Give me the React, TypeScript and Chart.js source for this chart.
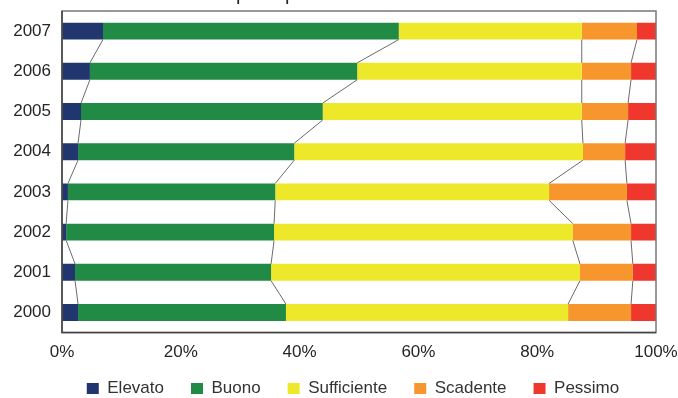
import React, { useEffect, useRef } from 'react';
import { Chart, registerables } from 'chart.js';

Chart.register(...registerables);

const years = ['2007', '2006', '2005', '2004', '2003', '2002', '2001', '2000'];
const elevato = [6.9, 4.7, 3.2, 2.7, 1.0, 0.7, 2.2, 2.7];
const buono = [49.8, 45.0, 40.7, 36.4, 34.9, 35.0, 33.0, 35.0];
const sufficiente = [30.8, 37.8, 43.6, 48.6, 46.1, 50.3, 52.0, 47.5];
const scadente = [9.3, 8.3, 7.8, 7.1, 13.1, 9.8, 8.9, 10.6];
const pessimo = [3.2, 4.2, 4.7, 5.2, 4.9, 4.2, 3.9, 4.2];
const seriesNames = ['Elevato', 'Buono', 'Sufficiente', 'Scadente', 'Pessimo'];
const seriesColors = ['#21366F', '#218A44', '#EDE92A', '#F7962D', '#EF372E'];
const xTicks = [0, 20, 40, 60, 80, 100];
const titleText = 'per il periodo 2000 - 2007';

const FONT = "'Liberation Sans', Arial, sans-serif";

const seriesLines = {
  id: 'seriesLines',
  afterDatasetsDraw(chart: any) {
    const ctx = chart.ctx;
    const n = chart.data.datasets.length;
    ctx.save();
    ctx.strokeStyle = '#6b6b6b';
    ctx.lineWidth = 1;
    for (let d = 0; d < n - 1; d++) {
      const meta = chart.getDatasetMeta(d);
      for (let i = 0; i < meta.data.length - 1; i++) {
        const a: any = meta.data[i];
        const b: any = meta.data[i + 1];
        ctx.beginPath();
        ctx.moveTo(a.x, a.y + a.height / 2);
        ctx.lineTo(b.x, b.y - b.height / 2);
        ctx.stroke();
      }
    }
    ctx.restore();
  },
};

const frame = {
  id: 'frame',
  afterDatasetsDraw(chart: any) {
    const { left, right, top, bottom } = chart.chartArea;
    const ctx = chart.ctx;
    ctx.save();
    ctx.strokeStyle = '#777';
    ctx.lineWidth = 1.5;
    ctx.strokeRect(left, top, right - left, bottom - top);
    ctx.strokeStyle = '#444';
    ctx.beginPath();
    ctx.moveTo(left, top);
    ctx.lineTo(left, bottom);
    ctx.lineTo(right, bottom);
    ctx.stroke();
    ctx.restore();
  },
};

const shiftBoxes = {
  id: 'shiftBoxes',
  afterLayout(chart: any) {
    if (chart.legend) {
      chart.legend.left += 25;
      chart.legend.right += 25;
      chart.legend.top -= 20;
      chart.legend.bottom -= 20;
    }
    if (chart.titleBlock) {
      chart.titleBlock.left += 22;
      chart.titleBlock.right += 22;
    }
  },
};

export default function App() {
  const ref = useRef<HTMLCanvasElement | null>(null);

  useEffect(() => {
    if (!ref.current) return;
    const values = [elevato, buono, sufficiente, scadente, pessimo];
    const chart = new Chart(ref.current, {
      type: 'bar',
      data: {
        labels: years,
        datasets: seriesNames.map((name, i) => ({
          label: name,
          data: values[i],
          backgroundColor: seriesColors[i],
          borderWidth: 0,
          barPercentage: 0.42,
          categoryPercentage: 1,
        })),
      },
      options: {
        indexAxis: 'y',
        responsive: false,
        animation: false,
        layout: { padding: { left: 0, right: 22, top: 0, bottom: 0 } },
        scales: {
          x: {
            stacked: true,
            min: 0,
            max: 100,
            afterBuildTicks: (s: any) => {
              s.ticks = xTicks.map((v) => ({ value: v }));
            },
            afterFit: (s: any) => {
              s.paddingLeft = 0;
              s.paddingRight = 0;
            },
            ticks: {
              callback: (v: any) => v + '%',
              padding: 10,
              color: '#262626',
              font: { family: FONT, size: 17 },
              maxRotation: 0,
            },
            grid: { display: false, drawTicks: false },
            border: { display: false },
          },
          y: {
            stacked: true,
            afterFit: (s: any) => {
              s.width = 62;
            },
            ticks: {
              padding: 11,
              color: '#262626',
              font: { family: FONT, size: 17 },
            },
            grid: { display: false, drawTicks: false },
            border: { display: false },
          },
        },
        plugins: {
          title: {
            display: true,
            text: titleText,
            color: '#262626',
            font: { family: FONT, size: 20, weight: 'normal' },
            padding: { top: 0, bottom: 5 },
          },
          legend: {
            position: 'bottom',
            labels: {
              boxWidth: 12,
              boxHeight: 11,
              padding: 27,
              color: '#333',
              font: { family: FONT, size: 17 },
            },
          },
          tooltip: { enabled: false },
        },
      },
      plugins: [seriesLines, frame, shiftBoxes],
    } as any);
    return () => chart.destroy();
  }, []);

  return (
    <div
      style={{
        position: 'absolute',
        left: 0,
        top: 0,
        width: 678,
        height: 398,
        overflow: 'hidden',
        background: '#fff',
      }}
    >
      <canvas
        ref={ref}
        width={678}
        height={445}
        style={{ position: 'absolute', left: 0, top: -18, width: 678, height: 445, display: 'block' }}
      />
    </div>
  );
}
